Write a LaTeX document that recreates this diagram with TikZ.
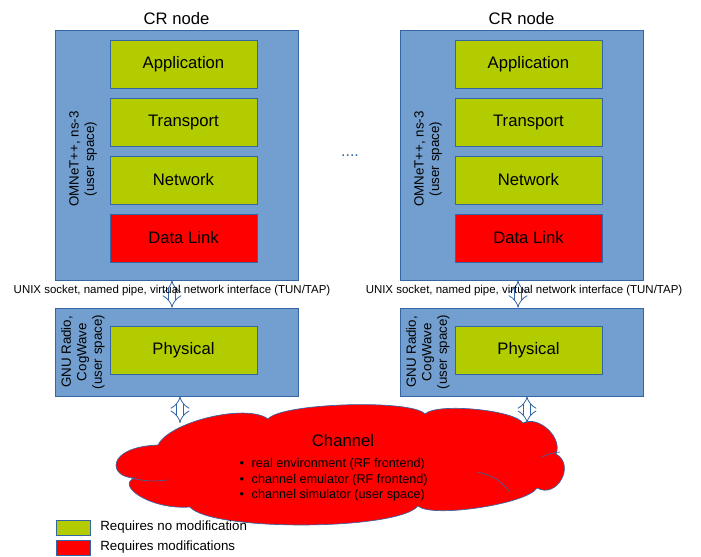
\documentclass[tikz,border=0pt]{standalone}
\usepackage{fontspec}
\setmainfont{Liberation Sans}
\usepackage{xcolor}
\usetikzlibrary{positioning, arrows.meta}

\definecolor{stackblue}{HTML}{729FCF}
\definecolor{edgeblue}{HTML}{3465A4}
\definecolor{layergreen}{HTML}{B2CC00}
\definecolor{layerred}{HTML}{FF0000}

\newcommand{\chanitem}{\makebox[9pt][l]{\textbullet}}

\begin{document}
\begin{tikzpicture}[x=0.75pt, y=-0.75pt, node distance=43.5pt,
    font=\fontsize{12.5}{15}\selectfont,
    stack/.style={draw=edgeblue, fill=stackblue, minimum width=182.25pt, inner sep=0pt},
    layer/.style={draw=edgeblue, fill=layergreen, minimum width=110.25pt, minimum height=36pt, inner sep=0pt},
    modified/.style={layer, fill=layerred},
    side/.style={rotate=90, align=center, font=\fontsize{10}{11.6}\selectfont},
    ipc/.style={font=\fontsize{8.6}{10}\selectfont},
    puff/.style={draw=edgeblue, line width=0.5pt},
    link/.style={draw=edgeblue, line width=0.6pt, double=white, double distance=4.5pt, {Implies}-{Implies}}]
      \useasboundingbox (0,0) rectangle (701,557);

      % channel cloud, drawn puff by puff
      \filldraw[puff, fill=layerred]
            (158,445) to[bend left=50, looseness=0.6] (268,419)
                      to[bend left=50, looseness=0.33] (425,414)
                      to[bend left=50, looseness=0.42] (523,423)
                      to[bend left=70] (556,454)
                      to[bend left=90, looseness=1.5] (537,488)
                      to[bend left=50, looseness=0.4] (418,506)
                      to[bend left=50, looseness=0.36] (190,507)
                      .. controls (150,510) and (115,485) .. (135,478)
                      .. controls (108,478) and (105,447) .. cycle;
      \draw[puff] (131,478) to[bend right=10] (167,480);
      \draw[puff] (477,472) to[bend left=20] (510,492);
      \draw[puff] (542,457) to[bend left=10] (560,452);
      \node (chantitle) at (343,441) {Channel};
      \node[anchor=west, align=left, font=\fontsize{9.5}{11.6}\selectfont] (chanlist) at (235,480)
            {\chanitem real environment (RF frontend)\\
             \chanitem channel emulator (RF frontend)\\
             \chanitem channel simulator (user space)};

      % left node
      \node[stack, minimum height=187.5pt] (omnet1) at (176.5,155) {};
      \node (title1) [above=0pt of omnet1] {CR node};
      \node[layer] (app1) at (183.5,64) {Application};
      \node[layer] (trans1) [below of=app1] {Transport};
      \node[layer] (net1) [below of=trans1] {Network};
      \node[modified] (mac1) [below of=net1] {Data Link};
      \node[side] (omnetlbl1) at (83,159) {OMNeT++, ns-3\\(user space)};
      \node[stack, minimum height=66pt] (gnu1) at (176.5,352) {};
      \node[layer] (phy1) at (183.5,350.5) {Physical};
      \node[side] (gnulbl1) at (83,352) {GNU Radio,\\CogWave\\(user space)};

      % right node
      \node[stack, minimum height=187.5pt] (omnet2) at (521.5,155) {};
      \node (title2) [above=0pt of omnet2] {CR node};
      \node[layer] (app2) at (528.5,64) {Application};
      \node[layer] (trans2) [below of=app2] {Transport};
      \node[layer] (net2) [below of=trans2] {Network};
      \node[modified] (mac2) [below of=net2] {Data Link};
      \node[side] (omnetlbl2) at (428,159) {OMNeT++, ns-3\\(user space)};
      \node[stack, minimum height=66pt] (gnu2) at (521.5,352) {};
      \node[layer] (phy2) at (528.5,350.5) {Physical};
      \node[side] (gnulbl2) at (428,352) {GNU Radio,\\CogWave\\(user space)};

      \node[text=edgeblue, font=\fontsize{12}{14}\selectfont] (more) at (350,156) {....};

      % interfaces between the layers
      \draw[link] ([xshift=-3.4pt]omnet1.south) -- ([xshift=-3.4pt]gnu1.north);
      \draw[link] ([xshift=-2.6pt]omnet2.south) -- ([xshift=-2.6pt]gnu2.north);
      \node[ipc] (ipc1) at (172,291) {UNIX socket, named pipe, virtual network interface (TUN/TAP)};
      \node[ipc] (ipc2) at (524,291) {UNIX socket, named pipe, virtual network interface (TUN/TAP)};

      \coordinate (air1) at (180,423);
      \coordinate (air2) at (527,423);
      \draw[link] (air1 |- gnu1.south) -- (air1);
      \draw[link] (air2 |- gnu2.south) -- (air2);

      % legend
      \node[layer, minimum width=25.5pt, minimum height=11.25pt] (keyok) at (73,527.5) {};
      \node[modified, minimum width=25.5pt, minimum height=11.25pt] (keymod) at (73,547.5) {};
      \node[right=4pt of keyok, font=\fontsize{10}{12}\selectfont] (keyoktext) {Requires no modification};
      \node[right=4pt of keymod, font=\fontsize{10}{12}\selectfont] (keymodtext) {Requires modifications};
\end{tikzpicture}
\end{document}
